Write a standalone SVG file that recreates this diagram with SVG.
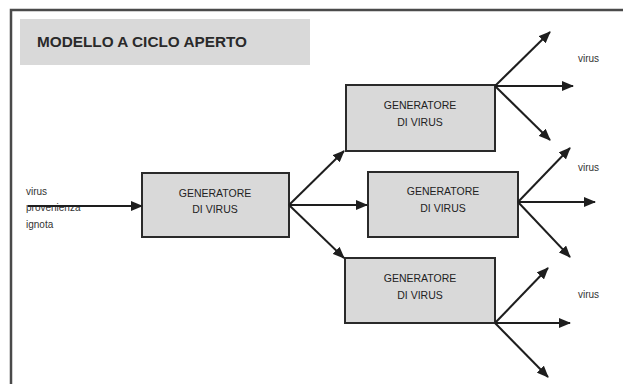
<svg xmlns="http://www.w3.org/2000/svg" width="623" height="384" viewBox="0 0 623 384">
<defs>
<marker id="ah" markerWidth="12" markerHeight="10" refX="11" refY="5" orient="auto" markerUnits="userSpaceOnUse">
<path d="M0,0 L12,5 L0,10 Z" fill="#1e1e1e"/>
</marker>
<style>
.box{fill:#d9d9d9;stroke:#2a2a2a;stroke-width:2}
.lbl{font-family:"Liberation Sans",Arial,sans-serif;font-size:10.5px;fill:#222;text-anchor:middle}
.sm{font-family:"Liberation Sans",Arial,sans-serif;font-size:10px;fill:#333}
.c line{stroke:#1e1e1e;stroke-width:2;marker-end:url(#ah)}
</style>
</defs>
<rect width="623" height="384" fill="#fff"/>
<path d="M11,384 L11,10 L623,10" fill="none" stroke="#4a4a4a" stroke-width="2.5"/>
<g id="title">
<rect x="20" y="19" width="290" height="46" fill="#d9d9d9"/>
<text x="37" y="47" font-family="'Liberation Sans',Arial,sans-serif" font-size="14" font-weight="bold" fill="#2a2a2a" textLength="210" lengthAdjust="spacingAndGlyphs">MODELLO A CICLO APERTO</text>
</g>
<g id="input">
<text class="sm" x="26" y="195">virus</text>
<text class="sm" x="26" y="211">provenienza</text>
<text class="sm" x="26" y="228">ignota</text>
</g>
<g id="gen1">
<rect class="box" x="142" y="173" width="147" height="64"/>
<text class="lbl" x="215" y="197">GENERATORE</text>
<text class="lbl" x="215" y="213">DI VIRUS</text>
</g>
<g id="gen2">
<rect class="box" x="346" y="85" width="149" height="66"/>
<text class="lbl" x="420" y="109">GENERATORE</text>
<text class="lbl" x="420" y="126">DI VIRUS</text>
</g>
<g id="gen3">
<rect class="box" x="368" y="172" width="150" height="65"/>
<text class="lbl" x="443" y="195">GENERATORE</text>
<text class="lbl" x="443" y="212">DI VIRUS</text>
</g>
<g id="gen4">
<rect class="box" x="345" y="258" width="150" height="65"/>
<text class="lbl" x="420" y="282">GENERATORE</text>
<text class="lbl" x="420" y="299">DI VIRUS</text>
</g>
<g id="outlabels">
<text class="sm" x="578" y="62">virus</text>
<text class="sm" x="578" y="171">virus</text>
<text class="sm" x="578" y="298">virus</text>
</g>
<g class="c" id="connectors">
<line x1="28" y1="206" x2="142" y2="206"/>
<line x1="289" y1="205" x2="344" y2="151"/>
<line x1="289" y1="205" x2="367" y2="205"/>
<line x1="289" y1="205" x2="344" y2="258"/>
<line x1="495" y1="86" x2="550" y2="32"/>
<line x1="495" y1="86" x2="573" y2="86"/>
<line x1="495" y1="86" x2="550" y2="140"/>
<line x1="518" y1="202" x2="570" y2="148"/>
<line x1="518" y1="202" x2="595" y2="202"/>
<line x1="518" y1="202" x2="570" y2="257"/>
<line x1="495" y1="323" x2="548" y2="268"/>
<line x1="495" y1="323" x2="570" y2="323"/>
<line x1="495" y1="323" x2="548" y2="377"/>
</g>
</svg>
